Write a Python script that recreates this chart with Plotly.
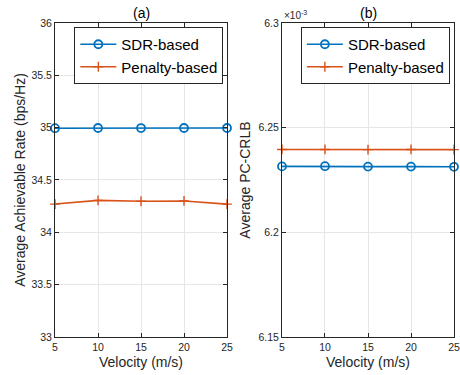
import plotly.graph_objects as go

velocity = [5, 10, 15, 20, 25]
rate_sdr = [34.995, 34.997, 34.996, 34.997, 34.997]
rate_pen = [34.27, 34.305, 34.297, 34.30, 34.27]
crlb_sdr = [6.2315e-3, 6.2316e-3, 6.2314e-3, 6.2314e-3, 6.2313e-3]
crlb_pen = [6.2396e-3, 6.2396e-3, 6.2395e-3, 6.2396e-3, 6.2395e-3]
x_ticks = [5, 10, 15, 20, 25]
rate_ticks = [33, 33.5, 34, 34.5, 35, 35.5, 36]
crlb_ticks = [6.15e-3, 6.2e-3, 6.25e-3, 6.3e-3]
crlb_ticktext = ["6.15", "6.2", "6.25", "6.3"]

BLUE = "#0072BD"
ORANGE = "#D95319"
FONT = "Liberation Sans, Arial, sans-serif"

fig = go.Figure()
for xa, ya, lg, ysdr, ypen in [("x", "y", "legend", rate_sdr, rate_pen),
                               ("x2", "y2", "legend2", crlb_sdr, crlb_pen)]:
    fig.add_trace(go.Scatter(x=velocity, y=ysdr, name="SDR-based", mode="lines+markers",
                             line=dict(color=BLUE, width=1.6),
                             marker=dict(symbol="circle-open", size=8, color=BLUE, line=dict(width=1.8)),
                             xaxis=xa, yaxis=ya, legend=lg, cliponaxis=False))
    fig.add_trace(go.Scatter(x=velocity, y=ypen, name="Penalty-based", mode="lines+markers",
                             line=dict(color=ORANGE, width=1.6),
                             marker=dict(symbol="cross-thin-open", size=7, color=ORANGE, line=dict(width=1.4, color=ORANGE)),
                             xaxis=xa, yaxis=ya, legend=lg, cliponaxis=False))

axis_common = dict(showline=True, linecolor="#262626", linewidth=1, mirror="ticks",
                   ticks="inside", ticklen=4, tickcolor="#262626", automargin=False,
                   ticklabeloverflow="allow",
                   showgrid=True, gridcolor="#E6E6E6", gridwidth=1, zeroline=False,
                   tickfont=dict(size=10.5, color="#262626", family=FONT))
title_font = dict(size=14, color="#262626", family=FONT)
legend_font = dict(size=15, color="black", family=FONT)

fig.update_layout(
    width=460, height=375,
    margin=dict(l=0, r=0, t=0, b=0, autoexpand=False),
    paper_bgcolor="white", plot_bgcolor="white",
    font=dict(family=FONT),
    xaxis=dict(domain=[0.1196, 0.4935], range=[5, 25], tickvals=x_ticks, anchor="y",
               title=dict(text="Velocity (m/s)", font=title_font, standoff=5), **axis_common),
    yaxis=dict(domain=[0.1013, 0.9387], range=[33, 36], tickvals=rate_ticks, anchor="x",
               title=dict(text="Average Achievable Rate (bps/Hz)", font=title_font, standoff=2), **axis_common),
    xaxis2=dict(domain=[0.613, 0.987], range=[5, 25], tickvals=x_ticks, anchor="y2",
                title=dict(text="Velocity (m/s)", font=title_font, standoff=5), **axis_common),
    yaxis2=dict(domain=[0.1013, 0.9387], range=[6.15e-3, 6.3e-3], tickvals=crlb_ticks, ticktext=crlb_ticktext,
                anchor="x2", title=dict(text="Average PC-CRLB", font=title_font, standoff=4), **axis_common),
    legend=dict(x=0.4855, y=0.928, xanchor="right", yanchor="top", bgcolor="white",
                bordercolor="#262626", borderwidth=1, font=legend_font,
                tracegroupgap=0, itemwidth=36),
    legend2=dict(x=0.978, y=0.928, xanchor="right", yanchor="top", bgcolor="white",
                 bordercolor="#262626", borderwidth=1, font=legend_font,
                 tracegroupgap=0, itemwidth=36),
    annotations=[
        dict(text="(a)", x=(0.1196 + 0.4935) / 2, y=0.9387, xref="paper", yref="paper",
             xanchor="center", yanchor="bottom", yshift=0, showarrow=False,
             font=dict(size=14, color="black", family=FONT)),
        dict(text="(b)", x=(0.613 + 0.987) / 2, y=0.9387, xref="paper", yref="paper",
             xanchor="center", yanchor="bottom", yshift=0, showarrow=False,
             font=dict(size=14, color="black", family=FONT)),
        dict(text="×10<sup>-3</sup>", x=0.613, y=0.9387, xref="paper", yref="paper",
             xanchor="left", yanchor="bottom", showarrow=False,
             font=dict(size=10, color="#262626", family=FONT)),
    ],
)

fig.write_html("out.html", config={"displayModeBar": False},
               post_script="document.body.style.margin='0';")
